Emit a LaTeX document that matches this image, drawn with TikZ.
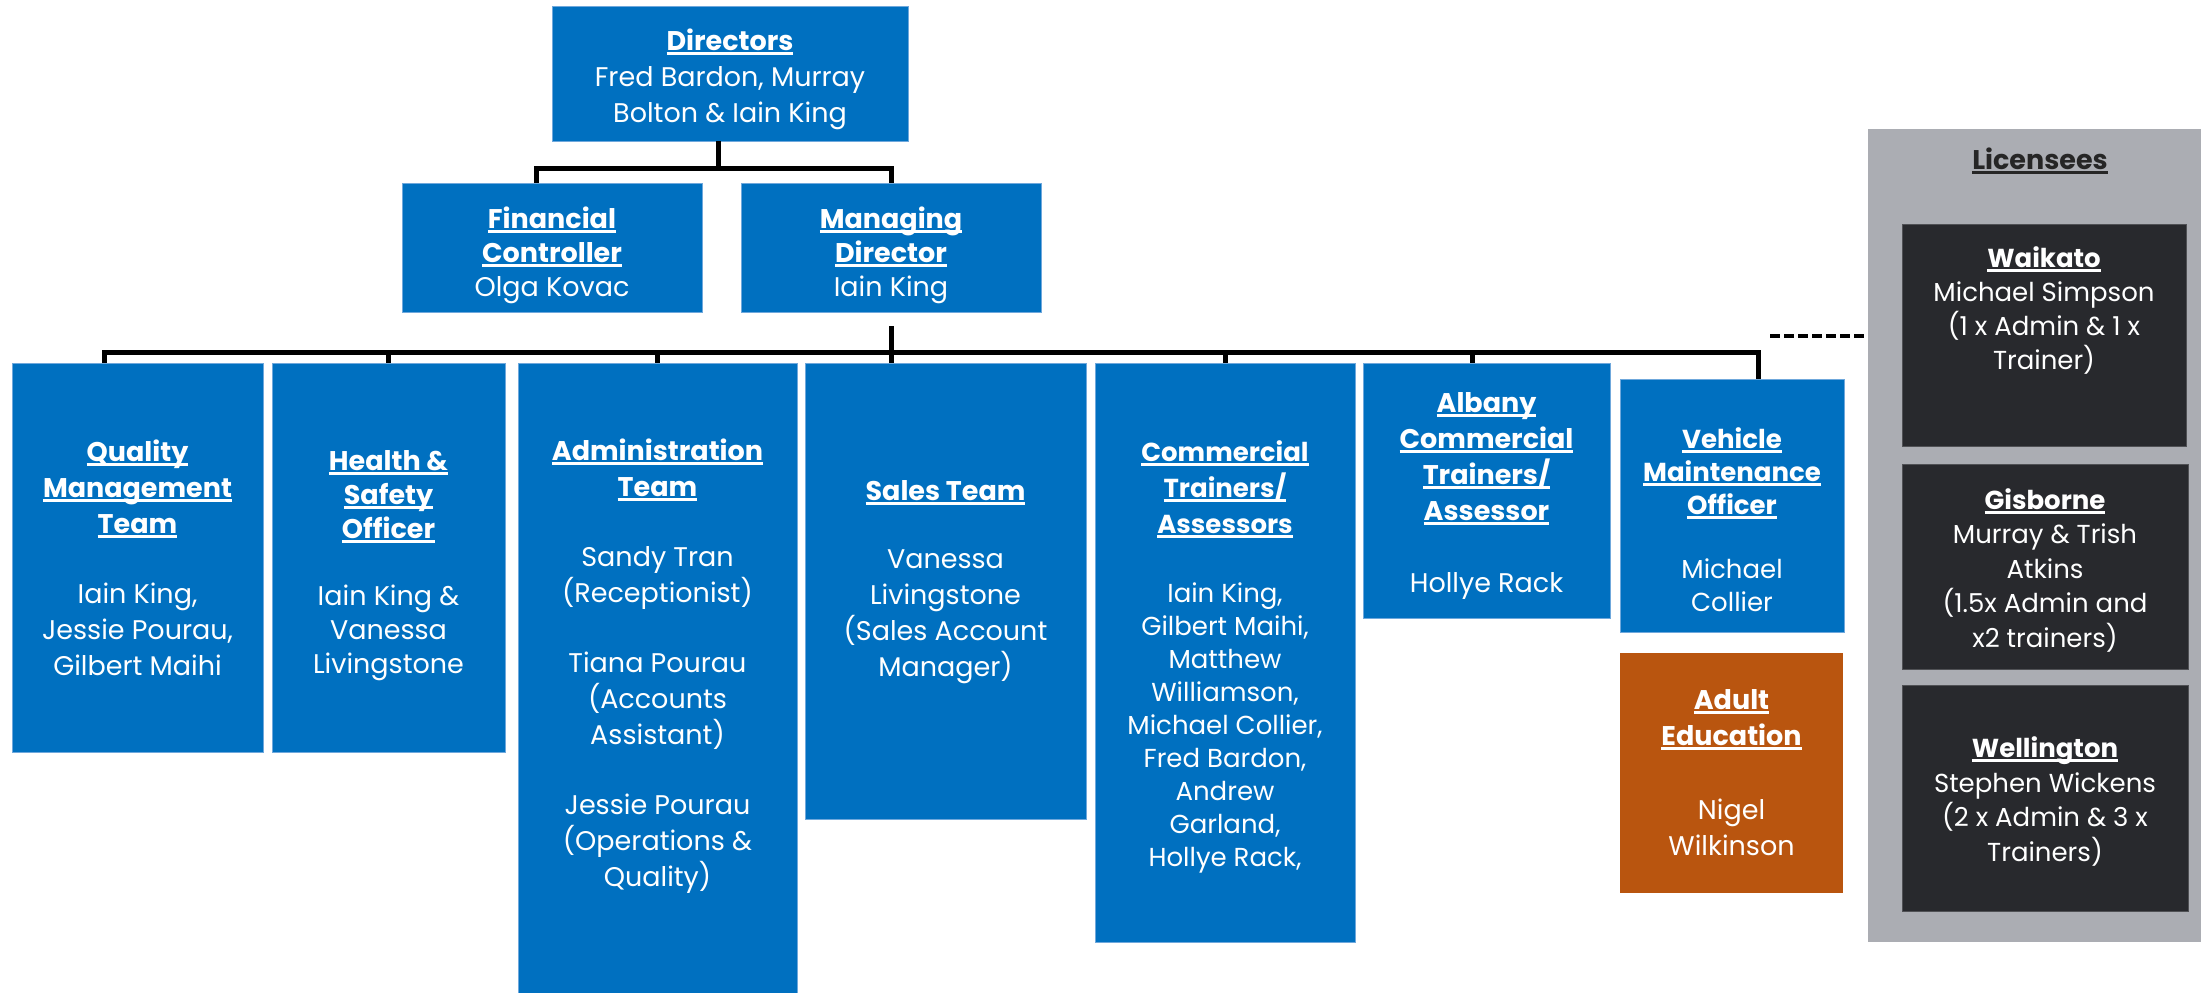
\documentclass[tikz,border=0pt]{standalone}
\usepackage{fontspec}
\setmainfont{Poppins}
\usepackage{xcolor}
\usepackage{tikz}

\definecolor{boxblue}{HTML}{0070C0}
\definecolor{boxedge}{HTML}{6FA8DC}
\definecolor{adultorange}{HTML}{B9550F}
\definecolor{licgrey}{HTML}{ABADB3}
\definecolor{licdark}{HTML}{28292D}
\definecolor{licedge}{HTML}{505155}
\definecolor{titledark}{HTML}{262626}

% bold heading with a thick underline
\newcommand{\uhead}[1]{\setbox0\hbox{\bfseries #1}\rlap{\rule[-4.5pt]{\wd0}{3pt}}\box0}
% invisible strut, pushes a text block down inside its box
\newcommand{\drop}[1]{\rule{0pt}{#1}}

\tikzset{
    role/.style={fill=boxblue, draw=boxedge, line width=0.8pt, text=white, inner sep=0pt,
        align=center, font=\fontsize{27}{36}\selectfont},
    adulted/.style={role, fill=adultorange, draw=none},
    region/.style={fill=licdark, draw=licedge, line width=1pt, text=white, inner sep=0pt,
        align=center, font=\fontsize{26}{34.5}\selectfont},
    dims/.style 2 args={minimum width=#1, minimum height=#2},
    link/.style={line width=5pt, black},
    dashlink/.style={line width=4pt, black, dash pattern=on 10pt off 4pt}
}

\begin{document}
\begin{tikzpicture}[x=1pt, y=-1pt]

    \path[use as bounding box, fill=white] (0,0) rectangle (2201,993);

    % board and the two under it
    \node[role, dims={356}{135}] (dir) at (730,73.5) {\drop{34pt}\uhead{Directors}\\ Fred Bardon, Murray\\ Bolton \& Iain King};
    \node[role, dims={300}{129}, font=\fontsize{27}{34}\selectfont] (fc) at (552,247.5)
        {\drop{37pt}\uhead{Financial}\\ \uhead{Controller}\\ Olga Kovac};
    \node[role, dims={300}{129}, font=\fontsize{27}{34}\selectfont] (md) at (891,247.5)
        {\drop{37pt}\uhead{Managing}\\ \uhead{Director}\\ Iain King};

    % teams
    \node[role, dims={251}{389}] (qmt) at (137.5,557.5) {\uhead{Quality}\\ \uhead{Management}\\ \uhead{Team}\\[34pt]
        Iain King,\\ Jessie Pourau,\\ Gilbert Maihi};
    \node[role, dims={233}{389}, font=\fontsize{27}{34}\selectfont] (hs) at (388.5,557.5)
        {\drop{37pt}\uhead{Health \&}\\ \uhead{Safety}\\ \uhead{Officer}\\[33pt]
        Iain King \&\\ Vanessa\\ Livingstone};
    \node[role, dims={279}{640}, text depth=40pt] (adm) at (657.5,683) {\uhead{Administration}\\ \uhead{Team}\\[34pt]
        Sandy Tran\\ (Receptionist)\\[34pt] Tiana Pourau\\ (Accounts\\ Assistant)\\[34pt]
        Jessie Pourau\\ (Operations \&\\ Quality)};
    \node[role, dims={281}{456}, text depth=25pt] (sales) at (945.5,591) {\uhead{Sales Team}\\[32pt]
        Vanessa\\ Livingstone\\ (Sales Account\\ Manager)};
    \node[role, dims={260}{579}, font=\fontsize{26}{33}\selectfont] (ct) at (1225,652.5)
        {\drop{29pt}\uhead{Commercial}\\[3pt] \uhead{Trainers/}\\[3pt] \uhead{Assessors}\\[36pt]
        Iain King,\\ Gilbert Maihi,\\ Matthew\\ Williamson,\\
        Michael Collier,\\ Fred Bardon,\\ Andrew\\ Garland,\\ Hollye Rack,};
    \node[role, dims={247}{255}] (acta) at (1486.5,490.5) {\drop{30pt}\uhead{Albany}\\ \uhead{Commercial}\\
        \uhead{Trainers/}\\ \uhead{Assessor}\\[36pt] Hollye Rack};
    \node[role, dims={224}{253}, font=\fontsize{26}{33}\selectfont] (vmo) at (1732,505.5) {\drop{49pt}\uhead{Vehicle}\\
        \uhead{Maintenance}\\ \uhead{Officer}\\[31pt] Michael\\ Collier};
    \node[adulted, dims={223}{240}] (adult) at (1731.5,773) {\uhead{Adult}\\ \uhead{Education}\\[38pt] Nigel\\ Wilkinson};

    % licensees panel
    \node[fill=licgrey, dims={352}{813}] (lic) at (2044,535.5) {};
    \node[anchor=base, text=titledark, font=\fontsize{27}{36}\selectfont] (lictitle) at (2040,169) {\uhead{Licensees}};
    \node[region, dims={284}{222}, text depth=54pt, font=\fontsize{26}{34}\selectfont] (wai) at (2044,335)
        {\uhead{Waikato}\\ Michael Simpson\\ (1 x Admin \& 1 x\\ Trainer)};
    \node[region, dims={286}{205}] (gis) at (2045,566.5) {\drop{28pt}\uhead{Gisborne}\\ Murray \& Trish\\ Atkins\\
        (1.5x Admin and\\ x2 trainers)};
    \node[region, dims={286}{226}] (wel) at (2045,798) {\drop{28pt}\uhead{Wellington}\\ Stephen Wickens\\
        (2 x Admin \& 3 x\\ Trainers)};

    % connectors
    \draw[link] ([xshift=-12pt]dir.south) -- ++(0,27) coordinate (dirbus);
    \draw[link] ([xshift=-16pt]fc.north) |- (dirbus) -| (md.north);

    \path (md.south) ++(0,40) coordinate (bus);
    \draw[link] ([yshift=-14pt]md.south) -- (sales.north -| md.south);
    \draw[link] ([xshift=-33pt]qmt.north) |- (bus) -| ([xshift=26pt]vmo.north);
    \foreach \n in {hs,adm,ct}
        \draw[link] (\n.north) -- (\n.north |- bus);
    \draw[link] ([xshift=-14pt]acta.north) -- ([xshift=-14pt]acta.north |- bus);

    \coordinate (licend) at (1770,336);
    \draw[dashlink] (licend) -- (licend -| lic.west);

\end{tikzpicture}
\end{document}
